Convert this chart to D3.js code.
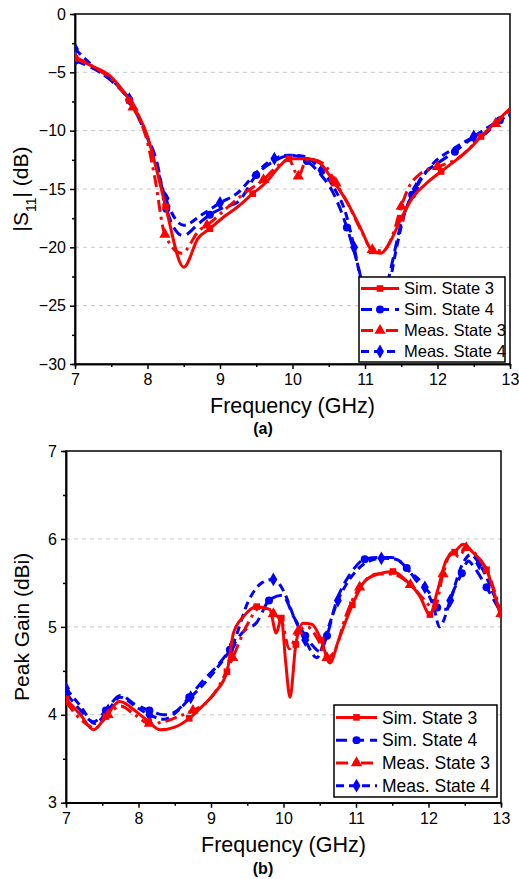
<!DOCTYPE html>
<html>
<head>
<meta charset="utf-8">
<script src="https://cdn.jsdelivr.net/npm/d3@7"></script>
<style>
  body { margin: 0; background: #fff; }
  svg { display: block; font-family: "Liberation Sans", Arial, sans-serif; }
  .grid line { stroke: #c8c8c8; stroke-dasharray: 4,4; stroke-width: 1; }
  .axis path, .axis line { stroke: #000; stroke-width: 1.5; }
  .axis text { fill: #000; }
</style>
</head>
<body>
<div class="content"></div>
<script>
// DATA
var freqTicks = [7, 8, 9, 10, 11, 12, 13];
var s11Ticks = [0, -5, -10, -15, -20, -25, -30];
var gainTicks = [3, 4, 5, 6, 7];
var seriesNames = ['Sim. State 3', 'Sim. State 4', 'Meas. State 3', 'Meas. State 4'];

// (a) |S11| in dB
var s11Sim3 = [[7,-3.8],[7.25,-4.5],[7.5,-5.4],[7.75,-7.4],[8.0,-10.5],[8.12,-13.2],[8.25,-16.5],[8.5,-21.7],[8.7,-19.2],[8.86,-18.4],[9.05,-17.4],[9.25,-16.5],[9.45,-15.4],[9.64,-14.4],[9.8,-13.2],[9.95,-12.4],[10.2,-12.4],[10.38,-12.8],[10.55,-14.2],[10.75,-16.1],[10.95,-18.5],[11.1,-20.3],[11.22,-20.5],[11.34,-19.6],[11.5,-17.5],[11.65,-15.8],[11.85,-14.5],[12.05,-13.5],[12.26,-12.5],[12.45,-11.5],[12.6,-10.5],[12.8,-9.3],[13,-8.1]];
var s11Sim4 = [[7,-4.0],[7.37,-5.1],[7.55,-6.0],[7.75,-7.4],[7.97,-10.2],[8.13,-12.7],[8.26,-16.7],[8.49,-19.0],[8.7,-18.0],[8.86,-17.2],[9.05,-16.6],[9.25,-16.1],[9.5,-13.8],[9.75,-12.6],[9.99,-12.1],[10.2,-12.6],[10.38,-13.7],[10.55,-15.2],[10.75,-18.3],[10.92,-22],[11.05,-25.5],[11.2,-25.5],[11.35,-22],[11.5,-17.9],[11.65,-15.5],[11.8,-13.8],[12.0,-12.8],[12.24,-11.8],[12.45,-10.8],[12.63,-10.4],[12.86,-9.1],[13,-8.7]];
var s11Meas3 = [[7,-3.7],[7.3,-4.7],[7.6,-6.2],[7.8,-8.0],[8.0,-11],[8.1,-14],[8.24,-18.9],[8.47,-20.5],[8.72,-18.5],[8.82,-18.1],[9.1,-16.6],[9.35,-15.3],[9.6,-14.2],[9.8,-13.0],[9.95,-12.5],[10.08,-13.9],[10.2,-12.4],[10.42,-12.8],[10.6,-14.5],[10.75,-16.1],[10.95,-18.6],[11.1,-20.2],[11.25,-20.3],[11.39,-18.8],[11.5,-16.5],[11.6,-14.9],[11.76,-13.7],[12.0,-13.1],[12.3,-12.3],[12.6,-10.5],[12.8,-9.4],[13,-8.2]];
var s11Meas4 = [[7,-3.0],[7.35,-5.0],[7.55,-5.9],[7.75,-7.3],[7.95,-9.8],[8.1,-12.5],[8.25,-15.8],[8.5,-18.1],[8.75,-17.2],[9.0,-16.2],[9.25,-15.3],[9.5,-13.6],[9.75,-12.4],[9.95,-12.1],[10.15,-12.2],[10.4,-13.4],[10.6,-15.2],[10.72,-16.8],[10.85,-20],[10.98,-24],[11.1,-27],[11.28,-25],[11.42,-20.5],[11.55,-17],[11.7,-15],[11.99,-12.5],[12.13,-11.9],[12.5,-10.5],[12.86,-9.1],[13,-8.6]];

// (b) peak gain in dBi
var gainSim3 = [[7,4.18],[7.2,4.0],[7.38,3.83],[7.55,3.98],[7.74,4.15],[7.95,4.05],[8.14,3.92],[8.3,3.83],[8.5,3.86],[8.7,3.96],[8.87,4.09],[9.05,4.25],[9.22,4.49],[9.31,4.93],[9.45,5.12],[9.63,5.23],[9.81,5.2],[9.9,4.93],[9.97,5.1],[10.03,4.6],[10.09,4.2],[10.17,4.8],[10.27,5.04],[10.39,5.03],[10.52,4.85],[10.64,4.59],[10.76,4.85],[10.95,5.25],[11.12,5.52],[11.3,5.6],[11.51,5.63],[11.7,5.52],[11.88,5.35],[12.02,5.14],[12.12,5.4],[12.25,5.77],[12.36,5.85],[12.48,5.94],[12.62,5.84],[12.8,5.65],[13,5.1]];
var gainSim4 = [[7,4.25],[7.2,4.05],[7.38,3.92],[7.55,4.05],[7.75,4.22],[7.95,4.12],[8.15,4.05],[8.35,4.0],[8.5,4.03],[8.7,4.2],[8.88,4.38],[9.08,4.55],[9.26,4.74],[9.45,4.95],[9.63,5.05],[9.8,5.3],[9.98,5.36],[10.15,5.1],[10.3,4.9],[10.41,4.78],[10.5,4.72],[10.6,4.9],[10.73,5.29],[10.92,5.6],[11.12,5.77],[11.3,5.79],[11.49,5.79],[11.7,5.67],[11.88,5.48],[12.0,5.4],[12.12,5.22],[12.25,5.2],[12.35,5.42],[12.46,5.61],[12.55,5.75],[12.62,5.69],[12.8,5.45],[13,5.16]];
var gainMeas3 = [[7,4.15],[7.2,3.95],[7.4,3.85],[7.58,4.0],[7.75,4.1],[7.95,4.0],[8.15,3.9],[8.35,3.92],[8.55,3.98],[8.75,4.05],[8.95,4.15],[9.12,4.34],[9.3,4.65],[9.49,5.01],[9.68,5.22],[9.86,5.15],[9.98,5.05],[10.08,4.75],[10.2,4.95],[10.33,5.0],[10.48,4.85],[10.6,4.65],[10.72,4.75],[10.85,5.1],[11.05,5.45],[11.3,5.6],[11.5,5.6],[11.75,5.48],[11.95,5.3],[12.08,5.2],[12.2,5.6],[12.32,5.85],[12.42,5.8],[12.52,5.9],[12.68,5.8],[12.85,5.55],[13,5.15]];
var gainMeas4 = [[7,4.3],[7.2,4.1],[7.4,3.9],[7.58,4.05],[7.75,4.2],[7.95,4.1],[8.15,4.0],[8.35,3.95],[8.55,4.05],[8.72,4.2],[8.9,4.35],[9.1,4.55],[9.3,4.8],[9.52,5.3],[9.7,5.5],[9.86,5.54],[10.0,5.41],[10.15,5.1],[10.3,4.85],[10.46,4.65],[10.6,4.95],[10.75,5.3],[10.92,5.55],[11.12,5.72],[11.35,5.78],[11.55,5.77],[11.75,5.62],[11.95,5.45],[12.08,5.2],[12.15,5.0],[12.3,5.3],[12.46,5.7],[12.58,5.82],[12.7,5.72],[12.86,5.45],[13,5.15]];


// VARIABLES
var w = 519,
    h = 879,
    red = '#ff0000',
    blue = '#0000ff';

// line style for each series, same order as seriesNames
var styles = [
    { color: red,  dash: null,         symbol: d3.symbolSquare,   size: 44 },
    { color: blue, dash: '11,6',       symbol: d3.symbolCircle,   size: 50 },
    { color: red,  dash: '12,5,3,5',   symbol: d3.symbolTriangle, size: 55 },
    { color: blue, dash: '8,5',        symbol: d3.symbolDiamond,  size: 55 }
];


// PREPARE SVG
var svg = d3.select('.content').append('svg')
    .attr('width', w)
    .attr('height', h);


function drawPanel(p) {
    var g = svg.append('g');

    var x = d3.scaleLinear().domain([7, 13]).range([p.left, p.right]);
    var y = d3.scaleLinear().domain(p.yDomain).range([p.bottom, p.top]);

    // grid at major y ticks
    g.append('g').attr('class', 'grid')
        .selectAll('line')
        .data(p.yTicks.filter(function(d) { return d !== p.yDomain[0] && d !== p.yDomain[1]; }))
        .enter().append('line')
        .attr('x1', p.left).attr('x2', p.right)
        .attr('y1', function(d) { return y(d); })
        .attr('y2', function(d) { return y(d); });

    // frame
    g.append('rect')
        .attr('x', p.left).attr('y', p.top)
        .attr('width', p.right - p.left).attr('height', p.bottom - p.top)
        .attr('fill', 'none').attr('stroke', '#000').attr('stroke-width', 1.5);

    // AXES
    var minorX = d3.range(7.5, 13, 1);
    g.append('g').attr('class', 'axis')
        .attr('transform', 'translate(0,' + p.bottom + ')')
        .call(d3.axisBottom(x).tickValues(minorX).tickSize(3).tickFormat(''));
    var xAxis = g.append('g').attr('class', 'axis')
        .attr('transform', 'translate(0,' + p.bottom + ')')
        .call(d3.axisBottom(x).tickValues(freqTicks).tickSize(5).tickSizeOuter(0)
            .tickPadding(5).tickFormat(d3.format('d')));
    xAxis.selectAll('text').style('font-size', '16px');

    var step = p.yTicks[1] - p.yTicks[0];
    var minorY = p.yTicks.slice(1).map(function(d) { return d - step / 2; });
    g.append('g').attr('class', 'axis')
        .attr('transform', 'translate(' + p.left + ',0)')
        .call(d3.axisLeft(y).tickValues(minorY).tickSize(3).tickFormat(''));
    var yAxis = g.append('g').attr('class', 'axis')
        .attr('transform', 'translate(' + p.left + ',0)')
        .call(d3.axisLeft(y).tickValues(p.yTicks).tickSize(5).tickSizeOuter(0)
            .tickPadding(4).tickFormat(d3.format('d')));
    yAxis.selectAll('text').style('font-size', '16px');

    // axis titles
    g.append('text')
        .attr('x', (p.left + p.right) / 2)
        .attr('y', p.bottom + 49)
        .attr('text-anchor', 'middle')
        .style('font-size', '21.5px')
        .text('Frequency (GHz)');

    var yt = g.append('text')
        .attr('transform', 'translate(' + p.yTitleX + ',' + ((p.top + p.bottom) / 2) + ') rotate(-90)')
        .attr('text-anchor', 'middle')
        .style('font-size', '21px');
    p.yTitle(yt);

    g.append('text')
        .attr('x', p.capX)
        .attr('y', p.capY)
        .attr('text-anchor', 'middle')
        .style('font-size', '16px')
        .style('font-weight', 'bold')
        .text(p.caption);

    // LINES
    var clipId = 'clip' + p.caption.replace(/\W/g, '');
    g.append('clipPath').attr('id', clipId)
        .append('rect')
        .attr('x', p.left).attr('y', p.top)
        .attr('width', p.right - p.left).attr('height', p.bottom - p.top);

    var line = d3.line()
        .x(function(d) { return x(d[0]); })
        .y(function(d) { return y(d[1]); })
        .curve(d3.curveMonotoneX);

    var plot = g.append('g').attr('clip-path', 'url(#' + clipId + ')');

    // draw measured first, then simulated on top: order 3,1,2,0
    [3, 1, 2, 0].forEach(function(i) {
        var s = styles[i], data = p.series[i];
        plot.append('path')
            .datum(data)
            .attr('d', line)
            .attr('fill', 'none')
            .attr('stroke', s.color)
            .attr('stroke-width', 3)
            .attr('stroke-dasharray', s.dash)
            .attr('stroke-linejoin', 'round');
        plot.selectAll('.mk' + i)
            .data(data.filter(function(d, j) { return j % 3 === 0; }))
            .enter().append('path')
            .attr('class', 'mk' + i)
            .attr('transform', function(d) { return 'translate(' + x(d[0]) + ',' + y(d[1]) + ')'; })
            .attr('d', d3.symbol().type(s.symbol).size(s.size))
            .attr('fill', s.color);
    });

    // LEGEND
    var lg = g.append('g').attr('transform', 'translate(' + p.legX + ',' + p.legY + ')');
    lg.append('rect')
        .attr('width', p.legW).attr('height', p.legRow * 4 + 1)
        .attr('fill', '#fff').attr('stroke', '#000').attr('stroke-width', 1.5);

    var rows = lg.selectAll('.leg-row')
        .data(seriesNames)
        .enter().append('g')
        .attr('class', 'leg-row')
        .attr('transform', function(d, i) { return 'translate(0,' + (p.legRow * i + p.legRow / 2 + 1) + ')'; });

    rows.append('line')
        .attr('x1', 2).attr('x2', p.legLine)
        .attr('stroke', function(d, i) { return styles[i].color; })
        .attr('stroke-width', 3)
        .attr('stroke-dasharray', function(d, i) { return styles[i].dash; });
    rows.append('path')
        .attr('transform', 'translate(' + (p.legLine / 2 + 1) + ',0)')
        .attr('d', function(d, i) { return d3.symbol().type(styles[i].symbol).size(styles[i].size)(); })
        .attr('fill', function(d, i) { return styles[i].color; });
    rows.append('text')
        .attr('x', p.legLine + 5)
        .attr('dy', '0.35em')
        .style('font-size', p.legFont)
        .text(function(d) { return d; });
}


// PANEL (a)
drawPanel({
    left: 75, right: 510, top: 14, bottom: 364,
    yDomain: [-30, 0], yTicks: s11Ticks.slice().reverse(),
    series: [s11Sim3, s11Sim4, s11Meas3, s11Meas4],
    yTitleX: 28,
    yTitle: function(t) {
        t.append('tspan').text('|S');
        t.append('tspan').attr('baseline-shift', 'sub').style('font-size', '14px').text('11');
        t.append('tspan').text('| (dB)');
    },
    caption: '(a)', capX: 263, capY: 434,
    legX: 359, legY: 277, legW: 146, legRow: 21, legLine: 40, legFont: '16.5px'
});

// PANEL (b)
drawPanel({
    left: 66, right: 501, top: 451, bottom: 802.75,
    yDomain: [3, 7], yTicks: gainTicks,
    series: [gainSim3, gainSim4, gainMeas3, gainMeas4],
    yTitleX: 29,
    yTitle: function(t) { t.text('Peak Gain (dBi)'); },
    caption: '(b)', capX: 263, capY: 874,
    legX: 334, legY: 705, legW: 163, legRow: 22.75, legLine: 43, legFont: '17.5px'
});
</script>
</body>
</html>
